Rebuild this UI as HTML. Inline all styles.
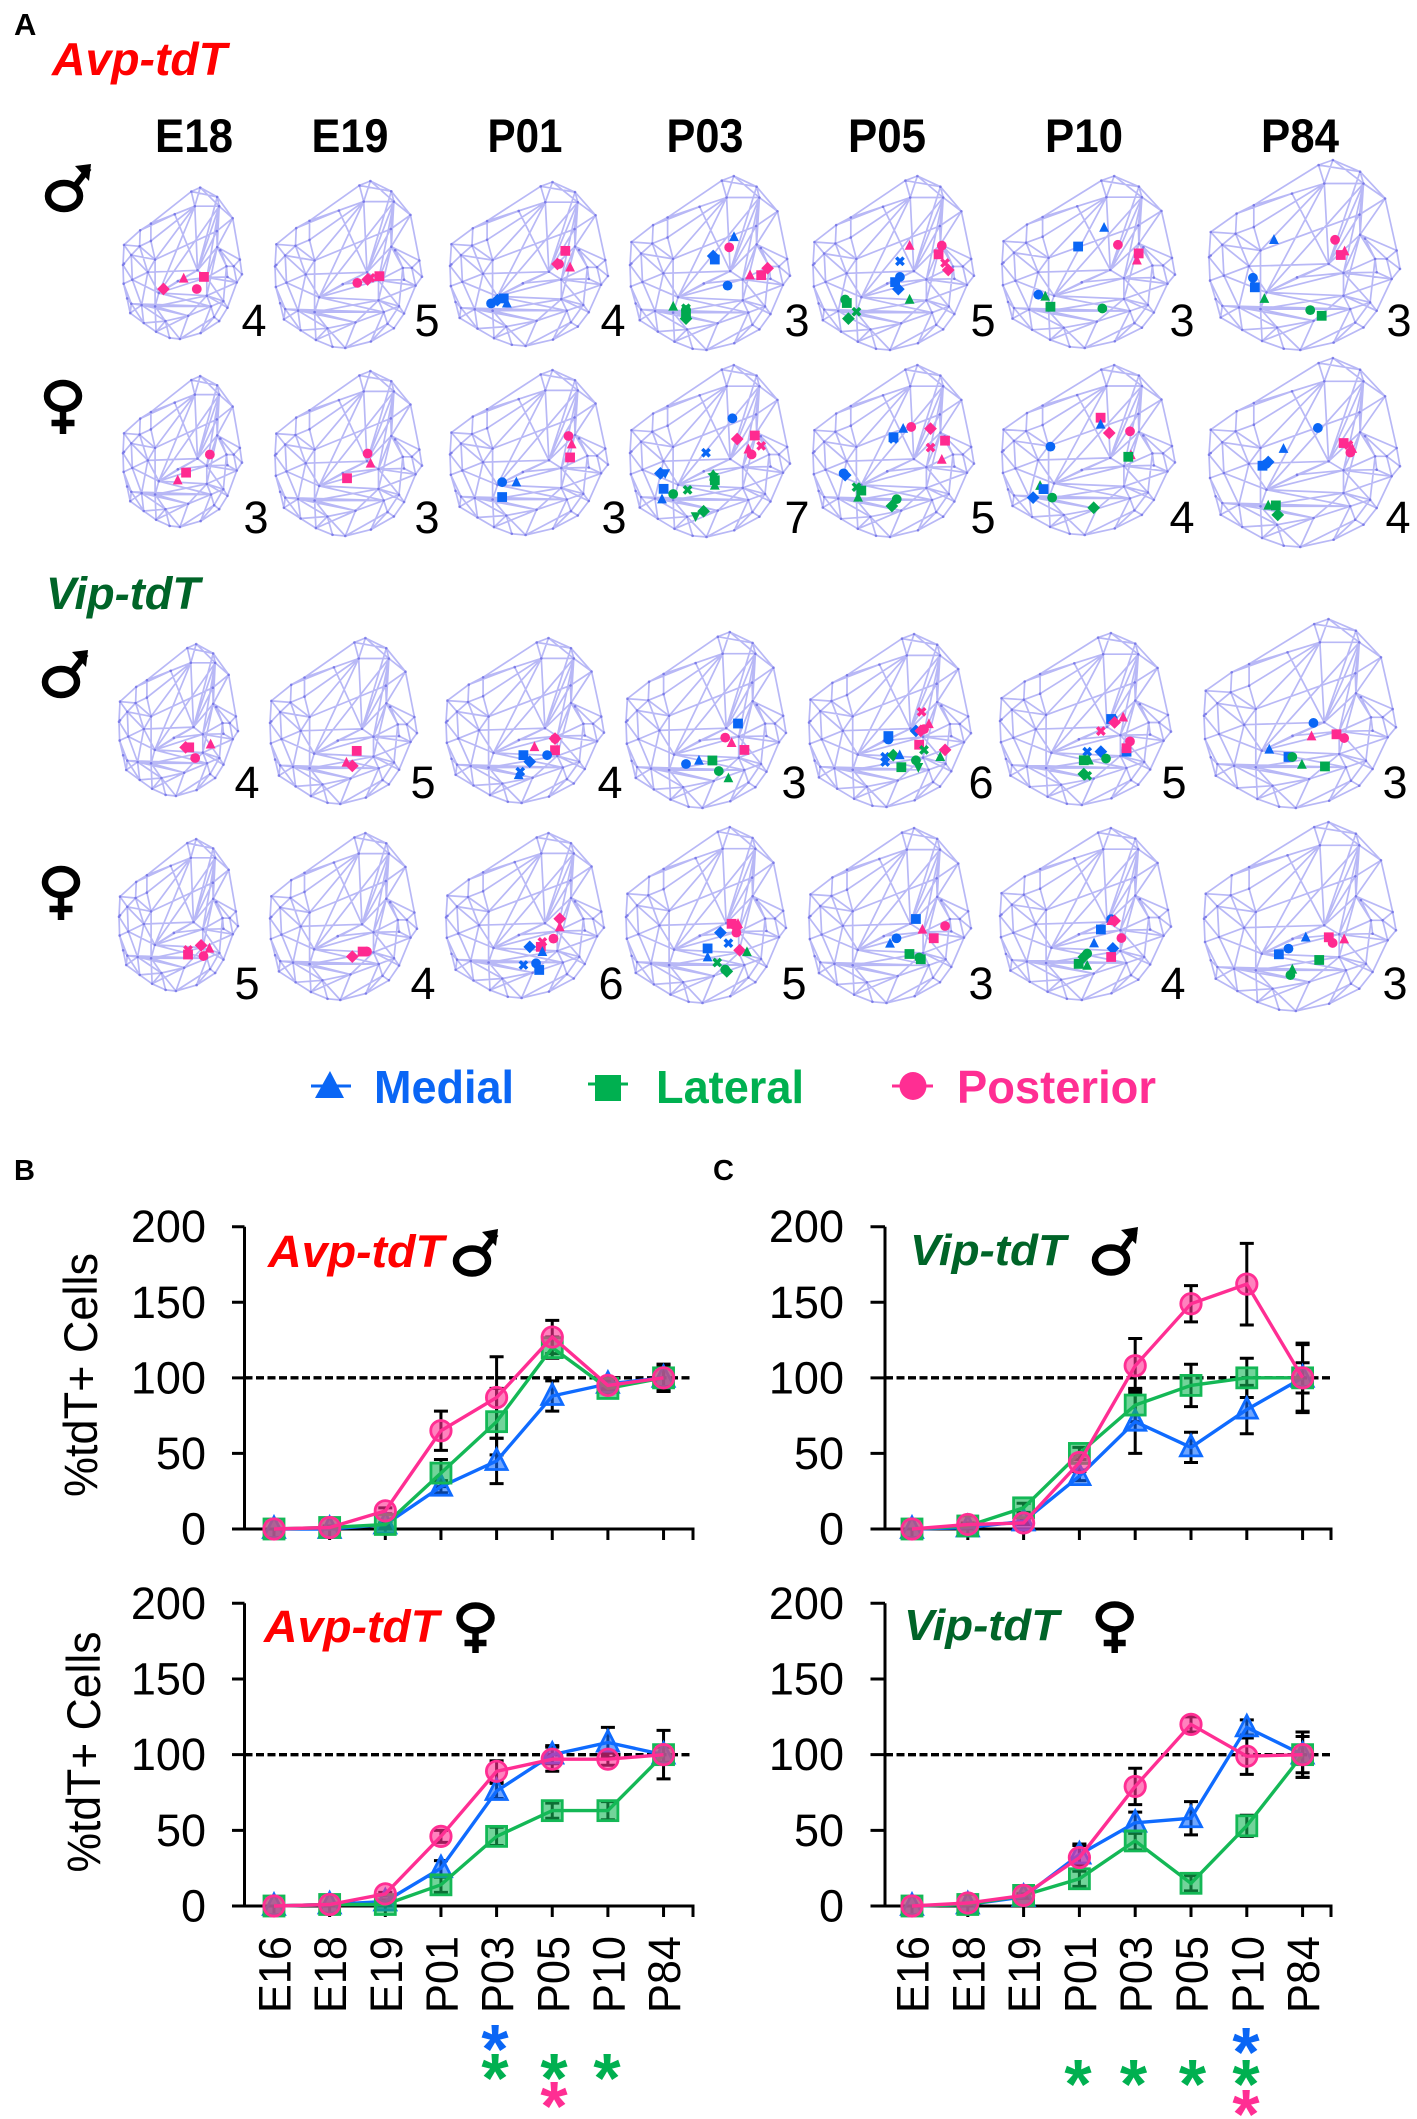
<!DOCTYPE html>
<html lang="en">
<head>
<meta charset="utf-8">
<title>Avp-tdT and Vip-tdT cell distribution</title>
<style>
html,body{margin:0;padding:0;background:#fff;}
svg{display:block;}
text{font-family:"Liberation Sans",sans-serif;}
.b{font-weight:700;}
.gene{font-weight:700;font-style:italic;}
.ct{font-size:45px;fill:#000;text-anchor:middle;}
.st{font-size:47px;font-weight:700;fill:#000;text-anchor:middle;}
.ytl{font-size:45px;fill:#000;text-anchor:end;}
.star{font-size:70px;font-weight:700;text-anchor:middle;}
.leg{font-size:46px;font-weight:700;}
</style>
</head>
<body>
<svg id="fig" xmlns="http://www.w3.org/2000/svg" width="1417" height="2119" viewBox="0 0 1417 2119">
<rect width="1417" height="2119" fill="#fff"/>

<text class="b" x="14" y="35" font-size="31">A</text>
<text class="b" x="14" y="1180" font-size="29">B</text>
<text class="b" x="713" y="1180" font-size="29">C</text>

<text class="gene" x="52" y="75" font-size="46" fill="#ff0000" textLength="175" lengthAdjust="spacingAndGlyphs">Avp-tdT</text>
<text class="gene" x="46" y="609" font-size="45" fill="#006428" textLength="154" lengthAdjust="spacingAndGlyphs">Vip-tdT</text>

<text class="st" x="194" y="152" textLength="78" lengthAdjust="spacingAndGlyphs">E18</text>
<text class="st" x="350" y="152" textLength="77" lengthAdjust="spacingAndGlyphs">E19</text>
<text class="st" x="525" y="152" textLength="75" lengthAdjust="spacingAndGlyphs">P01</text>
<text class="st" x="705" y="152" textLength="77" lengthAdjust="spacingAndGlyphs">P03</text>
<text class="st" x="887" y="152" textLength="78" lengthAdjust="spacingAndGlyphs">P05</text>
<text class="st" x="1084" y="152" textLength="78" lengthAdjust="spacingAndGlyphs">P10</text>
<text class="st" x="1300" y="152" textLength="78" lengthAdjust="spacingAndGlyphs">P84</text>

<g id="brains"></g>

<g>
<text class="ct" x="254" y="336">4</text>
<text class="ct" x="427" y="336">5</text>
<text class="ct" x="613" y="336">4</text>
<text class="ct" x="797" y="336">3</text>
<text class="ct" x="983" y="336">5</text>
<text class="ct" x="1182" y="336">3</text>
<text class="ct" x="1399" y="336">3</text>
<text class="ct" x="256" y="533">3</text>
<text class="ct" x="427" y="533">3</text>
<text class="ct" x="614" y="533">3</text>
<text class="ct" x="797" y="533">7</text>
<text class="ct" x="983" y="533">5</text>
<text class="ct" x="1182" y="533">4</text>
<text class="ct" x="1398" y="533">4</text>
<text class="ct" x="247" y="798">4</text>
<text class="ct" x="423" y="798">5</text>
<text class="ct" x="610" y="798">4</text>
<text class="ct" x="794" y="798">3</text>
<text class="ct" x="981" y="798">6</text>
<text class="ct" x="1174" y="798">5</text>
<text class="ct" x="1395" y="798">3</text>
<text class="ct" x="247" y="999">5</text>
<text class="ct" x="423" y="999">4</text>
<text class="ct" x="611" y="999">6</text>
<text class="ct" x="794" y="999">5</text>
<text class="ct" x="981" y="999">3</text>
<text class="ct" x="1173" y="999">4</text>
<text class="ct" x="1395" y="999">3</text>
</g>

<!-- sex symbols -->
<g transform="translate(64,196)" fill="none" stroke="#000"><ellipse rx="16" ry="13" stroke-width="6.5"/><path d="M11 -10L25 -28" stroke-width="6"/><path d="M11 -30L27 -32L25 -15Z" fill="#000" stroke="none"/></g>
<g transform="translate(63,396)" fill="none" stroke="#000"><ellipse rx="16" ry="13" stroke-width="6.5"/><path d="M0 14V38M-11.5 27H11.5" stroke-width="6.5"/></g>
<g transform="translate(61,682)" fill="none" stroke="#000"><ellipse rx="16" ry="13" stroke-width="6.5"/><path d="M11 -10L25 -28" stroke-width="6"/><path d="M11 -30L27 -32L25 -15Z" fill="#000" stroke="none"/></g>
<g transform="translate(61,882)" fill="none" stroke="#000"><ellipse rx="16" ry="13" stroke-width="6.5"/><path d="M0 14V38M-11.5 27H11.5" stroke-width="6.5"/></g>

<!-- legend -->
<g>
<g>
<path d="M311 1086H351" stroke="#0a66f5" stroke-width="3"/>
<path d="M330 1071L344 1098H315Z" fill="#0a66f5"/>
<text class="leg" x="374" y="1103" fill="#0a66f5" textLength="140" lengthAdjust="spacingAndGlyphs">Medial</text>
</g>
<g>
<path d="M588 1084H628" stroke="#00b050" stroke-width="3"/>
<rect x="595" y="1075" width="26" height="26" fill="#00b050"/>
<text class="leg" x="656" y="1103" fill="#00b050" textLength="148" lengthAdjust="spacingAndGlyphs">Lateral</text>
</g>
<g>
<path d="M892 1086H933" stroke="#ff2e93" stroke-width="3"/>
<ellipse cx="913" cy="1086" rx="13.5" ry="14" fill="#ff2e93"/>
<text class="leg" x="957" y="1103" fill="#ff2e93" textLength="199" lengthAdjust="spacingAndGlyphs">Posterior</text>
</g>
</g>

<g id="charts"></g>

<!-- y axis titles -->
<text font-size="47" fill="#000" text-anchor="middle" transform="translate(97,1375) rotate(-90)" textLength="244" lengthAdjust="spacingAndGlyphs">%tdT+ Cells</text>
<text font-size="47" fill="#000" text-anchor="middle" transform="translate(100,1752) rotate(-90)" textLength="241" lengthAdjust="spacingAndGlyphs">%tdT+ Cells</text>

<!-- chart annotations -->
<text class="gene" x="268" y="1267" font-size="45" fill="#ff0000" textLength="176" lengthAdjust="spacingAndGlyphs">Avp-tdT</text>
<g transform="translate(472,1261)" fill="none" stroke="#000"><ellipse rx="16" ry="12.5" stroke-width="6.5"/><path d="M11 -10L24 -27" stroke-width="6"/><path d="M10 -29L26 -32L24 -15Z" fill="#000" stroke="none"/></g>
<text class="gene" x="910" y="1265" font-size="44" fill="#006428" textLength="156" lengthAdjust="spacingAndGlyphs">Vip-tdT</text>
<g transform="translate(1111,1260)" fill="none" stroke="#000"><ellipse rx="16" ry="12.5" stroke-width="6.5"/><path d="M11 -10L24 -28" stroke-width="6"/><path d="M10 -30L27 -33L25 -16Z" fill="#000" stroke="none"/></g>
<text class="gene" x="264" y="1642" font-size="45" fill="#ff0000" textLength="175" lengthAdjust="spacingAndGlyphs">Avp-tdT</text>
<g transform="translate(475.5,1618)" fill="none" stroke="#000"><ellipse rx="16" ry="12.5" stroke-width="6.5"/><path d="M0 13V35M-11 25H11" stroke-width="6.5"/></g>
<text class="gene" x="904" y="1640" font-size="44" fill="#006428" textLength="155" lengthAdjust="spacingAndGlyphs">Vip-tdT</text>
<g transform="translate(1114.7,1617)" fill="none" stroke="#000"><ellipse rx="16" ry="12.5" stroke-width="6.5"/><path d="M0 13V36M-11 26H11" stroke-width="6.5"/></g>

<!-- significance stars -->
<g>
<text class="star" fill="#0a66f5" x="495" y="2073">*</text>
<text class="star" fill="#00b050" x="495" y="2102">*</text>
<text class="star" fill="#00b050" x="554" y="2102">*</text>
<text class="star" fill="#ff2e93" x="554" y="2130">*</text>
<text class="star" fill="#00b050" x="607" y="2102">*</text>
<text class="star" fill="#00b050" x="1078" y="2108">*</text>
<text class="star" fill="#00b050" x="1133.5" y="2108">*</text>
<text class="star" fill="#00b050" x="1192.5" y="2108">*</text>
<text class="star" fill="#0a66f5" x="1246" y="2076">*</text>
<text class="star" fill="#00b050" x="1246" y="2108">*</text>
<text class="star" fill="#ff2e93" x="1246" y="2138">*</text>
</g>
</svg>

<script>
/* ---------- chart data ---------- */
const categories = ['E16','E18','E19','P01','P03','P05','P10','P84'];
const yTickValues = [0,50,100,150,200];
const referenceLevel = 100;

const avpMaleMedial      = [0,0,3,28,45,88,96,100];
const avpMaleMedialErr   = [0,0,1,4,15,10,3,9];
const avpMaleLateral     = [0,1,3,37,71,120,93,100];
const avpMaleLateralErr  = [0,0,1,9,22,7,3,9];
const avpMalePosterior   = [0,1,12,65,87,127,95,100];
const avpMalePosteriorErr= [0,1,2,13,27,11,3,8];

const vipMaleMedial      = [0,1,5,35,71,54,79,100];
const vipMaleMedialErr   = [0,0,1,3,21,10,16,23];
const vipMaleLateral     = [0,2,14,50,82,95,100,100];
const vipMaleLateralErr  = [0,1,3,4,11,14,13,10];
const vipMalePosterior   = [0,3,4,44,108,149,162,100];
const vipMalePosteriorErr= [0,1,1,5,18,12,27,22];

const avpFemaleMedial      = [0,1,3,25,76,100,108,100];
const avpFemaleMedialErr   = [0,0,1,5,5,6,10,5];
const avpFemaleLateral     = [0,1,1,14,46,63,63,100];
const avpFemaleLateralErr  = [0,0,1,5,6,5,6,6];
const avpFemalePosterior   = [0,1,8,46,89,97,97,100];
const avpFemalePosteriorErr= [0,0,1,4,7,8,4,16];

const vipFemaleMedial      = [0,1,6,34,55,58,118,100];
const vipFemaleMedialErr   = [0,0,1,7,7,11,5,15];
const vipFemaleLateral     = [0,1,7,18,43,15,53,100];
const vipFemaleLateralErr  = [0,0,1,5,6,5,7,12];
const vipFemalePosterior   = [0,2,7,32,79,120,99,100];
const vipFemalePosteriorErr= [0,0,1,8,12,5,12,15];

/* ---------- brain point data: atlas coordinates, percent of the atlas extent.
   First letter = region (m medial, l lateral, p posterior),
   second = symbol (t triangle, s square, c circle, d diamond, x cross, a star, v inverted triangle) */
const avpMaleE18 = [['pd',34,67],['pt',51,60],['pc',62,67],['ps',68,59]];
const avpMaleE19 = [['pc',56,61],['pd',63,59],['px',65,58],['ps',71,57]];
const avpMaleP01 = [['mc',26,74],['md',30,72],['ms',34,71],['mt',36,74],['ps',73,42],['pd',68,50],['pc',69,50],['pt',76,52]];
const avpMaleP03 = [['mt',65,35],['pc',62,41],['md',52,46],['ms',53,48],['mc',61,63],['pt',75,57],['ps',82,57],['pd',86,53],['lt',27,75],['lc',35,77],['ls',35,79],['ld',35,82],['lx',35,76]];
const avpMaleP05 = [['pt',60,40],['pc',80,40],['ps',78,45],['px',82,50],['pd',84,54],['mx',54,49],['mc',54,58],['ms',51,61],['md',53,65],['lt',60,71],['lc',20,71],['ls',21,73],['lx',27,78],['ld',22,82]];
const avpMaleP10 = [['mt',59,30],['ms',44,41],['pc',67,40],['ps',79,45],['pt',78,49],['mc',21,69],['lt',25,70],['ls',28,76],['lc',58,77]];
const avpMaleP84 = [['mt',34,42],['pc',66,42],['pt',71,48],['ps',69,50],['mc',23,62],['ms',24,67],['lt',29,73],['lc',53,79],['ls',59,82]];

const avpFemaleE18 = [['pc',73,52],['ps',53,64],['pt',46,69]];
const avpFemaleE19 = [['pc',63,50],['pt',65,56],['ps',49,65]];
const avpFemaleP01 = [['pc',75,40],['pt',77,45],['ps',76,53],['mc',33,68],['mt',42,68],['ms',33,77]];
const avpFemaleP03 = [['mx',47.5,51],['md',19,63],['mv',22,63],['ms',21,72],['mt',20,78],['lc',27,75],['lx',36,72.6],['la',52,64],['ls',53,67],['lt',53,70],['ld',46,85],['lv',41,88],['mc',64,31],['pd',67,43],['ps',78,41],['px',82,47],['pt',74,49],['pc',76,52]];
const avpFemaleP05 = [['ms',50,42],['mx',50,43],['mt',56,37],['pc',61,36],['pd',73,37],['ps',82,44],['px',73,48],['pt',80,55],['mc',19,63],['md',20,64],['lx',27,71],['ls',30,73],['lt',28,77],['lc',52,78],['ld',49,82]];
const avpFemaleP10 = [['ps',57,31],['mt',57,35],['pd',62,40],['pc',74,39],['mc',28,48],['pt',74.5,53],['ls',73,54],['lt',22,71],['ms',24,73],['md',18,78],['lc',29,78],['ld',53,84]];
const avpFemaleP84 = [['mc',57,37],['mt',39,48],['ps',70.5,45],['pt',75,48],['px',73,46],['pc',74,50],['ms',28,57],['mc',30,56],['md',31,55],['lt',31,78],['ls',35,78],['ld',36,83]];

const vipMaleE18 = [['pd',56,68],['ps',59,68],['pt',77,66],['pc',64,75]];
const vipMaleE19 = [['ps',59,68],['pt',52,75],['pd',56,77]];
const vipMaleP01 = [['pc',69,61],['pd',69,61],['pt',56,66],['ps',69,68],['mc',64,71],['ms',49,71],['md',53,75],['mx',47,81],['mt',46,83]];
const vipMaleP03 = [['mc',37.5,75],['mt',45.6,73],['ls',54,73],['lc',58,79],['ms',70,52],['pc',62,60],['pt',66,63],['ps',74,67],['lt',64,83]];
const vipMaleP05 = [['px',69.5,45],['pt',74,52],['md',66,56],['pd',69,56],['pc',71,55],['ms',49,59],['mc',49,61],['ps',68,64],['lx',71,67],['pd',84,67],['lt',81,71],['mx',47,71],['mx',47,74],['ld',52,70],['mt',56,70],['ls',57,77],['lc',66,73],['lv',67.5,77]];
const vipMaleP10 = [['ms',65,50],['mc',66,50],['pd',67,52],['pt',72,49],['px',59,57],['pc',76,63],['ms',74,69],['ps',74,67],['mx',51,69],['md',59,69],['lc',62,73],['ls',49,74],['lt',52,74],['ld',49,82],['lx',51,83]];
const vipMaleP84 = [['mc',57,55],['pt',56,62],['ps',69,61],['pc',73,63],['mt',34,69],['ms',44,73],['lc',46,73],['lt',51,77],['ls',63,78]];

const vipFemaleE18 = [['px',58,73],['ps',58,76],['pd',69,70],['pt',76,72],['pc',71,77]];
const vipFemaleE19 = [['pd',56,74],['ps',63,71],['pc',66,71]];
const vipFemaleP01 = [['pd',72,52],['pt',72,57],['px',61,66],['ps',60,69],['pc',68,64],['md',53,69],['mt',61,72],['mx',49,80],['mc',57,79],['ms',59,83]];
const vipFemaleP03 = [['ps',66,55],['pt',70,55],['pd',69,57],['pc',69,60],['md',59,60],['mx',64,66],['pd',71,70],['lt',75.6,71],['ms',51,69],['mt',51,74],['lx',57,77],['lc',62,81],['ld',63,82]];
const vipFemaleP05 = [['ms',66,52],['pt',70,58],['pc',84,56],['ps',77,63],['mc',54,63],['mt',50,66],['ls',62,72],['lc',68,74],['ls',69,75]];
const vipFemaleP10 = [['mc',65,53],['pt',65,54],['pd',67,54],['ms',59,59],['pc',71,64],['mt',55,67],['md',66,70],['ps',65,75],['lc',51,73],['ld',49,75],['ls',46,79],['lt',51,80]];
const vipFemaleP84 = [['mt',53,61],['ps',65,61],['pc',67,64],['pt',73,62],['mc',44,67],['ms',39,70],['ls',60,73],['lt',46,78],['lc',45,81]];

/* ---------- layout (not data) ---------- */
const SVGNS = 'http://www.w3.org/2000/svg';
const colors = {m:'#0a66f5', l:'#00a94f', p:'#ff2a90'};
const chartColors = {medial:'#0f6bff', lateral:'#14b856', posterior:'#ff2e93'};

const brainCells = [
  ['avp-male-e18',avpMaleE18,123,242,187.5,339],['avp-male-e19',avpMaleE19,275,422,181,348],['avp-male-p01',avpMaleP01,450,608,182,346],['avp-male-p03',avpMaleP03,630,790,176,350],['avp-male-p05',avpMaleP05,813,974,176,350],['avp-male-p10',avpMaleP10,1002,1175,176,348],['avp-male-p84',avpMaleP84,1209,1400,160,350],
  ['avp-female-e18',avpFemaleE18,123,242,376,527],['avp-female-e19',avpFemaleE19,275,422,371,536],['avp-female-p01',avpFemaleP01,450,608,370,535],['avp-female-p03',avpFemaleP03,630,790,365,537],['avp-female-p05',avpFemaleP05,813,974,365,537],['avp-female-p10',avpFemaleP10,1002,1175,365,535],['avp-female-p84',avpFemaleP84,1209,1400,358,547],
  ['vip-male-e18',vipMaleE18,119,238,644,796],['vip-male-e19',vipMaleE19,270,417,638,804],['vip-male-p01',vipMaleP01,446,604,638,803],['vip-male-p03',vipMaleP03,626,786,632,808],['vip-male-p05',vipMaleP05,809,971,634,807],['vip-male-p10',vipMaleP10,1000,1171,633,805],['vip-male-p84',vipMaleP84,1204,1396,619,808],
  ['vip-female-e18',vipFemaleE18,119,238,839,991],['vip-female-e19',vipFemaleE19,270,417,833,1000],['vip-female-p01',vipFemaleP01,446,604,833,998],['vip-female-p03',vipFemaleP03,626,786,827,1003],['vip-female-p05',vipFemaleP05,809,971,828,1003],['vip-female-p10',vipFemaleP10,1000,1171,828,1000],['vip-female-p84',vipFemaleP84,1204,1396,822,1011]
];

/* wireframe template, traced from one atlas (extent 25..600 by 15..585) */
const meshRaw = [[398,15],[480,50],[555,130],[590,285],[600,340],[575,370],[530,465],[490,515],[400,560],[300,582],[250,578],[185,555],[125,522],[60,485],[45,430],[28,375],[25,305],[30,230],[108,175],[160,150],[355,30],
[372,85],[490,85],[478,178],[480,238],[105,235],[160,215],[180,285],[65,268],[30,300],[145,332],[70,360],[198,410],[180,460],[115,455],[65,450],[385,325],[430,352],[525,310],[495,250],[560,310],[530,350],[430,420],[465,500],[450,460],[230,515],[340,495],[510,440],[290,365],[275,115]];
const meshVerts = meshRaw.map(function(v){return [(v[0]-25)/575*100,(v[1]-15)/567*100];});
const meshEdges = '20-0 0-1 1-2 2-3 3-4 4-5 5-6 6-7 7-8 8-9 9-10 10-11 11-12 12-13 13-14 14-15 15-16 16-17 17-18 18-19 19-20 19-20 20-1 20-21 0-21 21-22 0-22 1-22 22-2 22-23 22-24 21-36 22-36 22-37 1-36 21-19 21-27 21-32 21-49 18-25 17-25 25-26 26-19 26-27 27-25 25-28 17-28 28-16 28-27 28-30 16-31 28-31 31-30 30-27 27-33 31-15 15-35 14-35 35-13 35-34 34-31 34-30 34-33 33-32 32-30 32-36 32-36 32-37 34-12 35-12 13-34 33-11 33-45 45-11 45-10 45-9 30-36 27-23 36-23 36-24 36-37 37-24 37-42 42-24 42-44 44-43 43-7 43-8 42-32 42-32 33-42 33-44 34-44 34-46 46-44 46-42 45-46 9-46 8-44 9-43 42-6 42-5 37-5 37-38 38-24 38-40 24-39 39-40 40-4 40-3 24-3 24-2 23-2 23-24 40-5 38-47 47-6 47-43 44-47 42-47 37-47 41-38 41-5 41-37 39-38 32-48 48-37 48-36 32-22 45-34 35-33 12-45 32-44 33-46 35-44 31-32 11-46 25-30 26-21 18-49 49-36';

function brainPx(cell,u,v){
  return [cell[2]+u/100*(cell[3]-cell[2]), cell[4]+v/100*(cell[5]-cell[4])];
}
function brainMarkerPath(s,x,y){
  const r=4.9;
  if(s==='t')return `M${x} ${y-r*1.15}L${x+r} ${y+r*.85}L${x-r} ${y+r*.85}Z`;
  if(s==='v')return `M${x} ${y+r*1.15}L${x+r} ${y-r*.85}L${x-r} ${y-r*.85}Z`;
  if(s==='s')return `M${x-r} ${y-r}h${2*r}v${2*r}h${-2*r}Z`;
  if(s==='c')return `M${x-r} ${y}a${r} ${r} 0 1 0 ${2*r} 0a${r} ${r} 0 1 0 ${-2*r} 0Z`;
  if(s==='d'){const q=r*1.3;return `M${x} ${y-q}L${x+q} ${y}L${x} ${y+q}L${x-q} ${y}Z`;}
  if(s==='x'){const a=r*1.0,b=r*.5;return `M${x-a} ${y-a+b}L${x-a+b} ${y-a}L${x} ${y-b}L${x+a-b} ${y-a}L${x+a} ${y-a+b}L${x+b} ${y}L${x+a} ${y+a-b}L${x+a-b} ${y+a}L${x} ${y+b}L${x-a+b} ${y+a}L${x-a} ${y+a-b}L${x-b} ${y}Z`;}
  const a=r*1.2,b=r*.5;
  return `M${x} ${y-a}L${x+b} ${y-b}L${x+a} ${y-b*.6}L${x+b*1.2} ${y+b*.5}L${x+a*.7} ${y+a}L${x} ${y+b}L${x-a*.7} ${y+a}L${x-b*1.2} ${y+b*.5}L${x-a} ${y-b*.6}L${x-b} ${y-b}Z`;
}
function svgEl(tag,attrs){
  const el=document.createElementNS(SVGNS,tag);
  for(const k in attrs)el.setAttribute(k,attrs[k]);
  return el;
}

const brainRoot=document.getElementById('brains');
brainCells.forEach(function(cell){
  const g=svgEl('g',{});
  
  
  let d='',dots='';
  meshEdges.split(' ').forEach(function(e){
    const ab=e.split('-');
    const a=brainPx(cell,meshVerts[+ab[0]][0],meshVerts[+ab[0]][1]);
    const b=brainPx(cell,meshVerts[+ab[1]][0],meshVerts[+ab[1]][1]);
    d+='M'+a[0].toFixed(1)+' '+a[1].toFixed(1)+'L'+b[0].toFixed(1)+' '+b[1].toFixed(1);
  });
  meshVerts.forEach(function(v){
    const p=brainPx(cell,v[0],v[1]);
    dots+='M'+p[0].toFixed(1)+' '+p[1].toFixed(1)+'h.01';
  });
  const mesh=svgEl('path',{d:d,fill:'none',stroke:'#7272ee','stroke-opacity':'.5','stroke-width':'1.7'});
  
  
  g.appendChild(mesh);
  const nodes=svgEl('path',{d:dots,fill:'none',stroke:'#5050e0','stroke-opacity':'.6','stroke-width':'2.6','stroke-linecap':'round'});
  
  
  g.appendChild(nodes);
  cell[1].forEach(function(pt){
    const p=brainPx(cell,pt[1],pt[2]);
    const m=svgEl('path',{d:brainMarkerPath(pt[0][1],p[0],p[1]),fill:colors[pt[0][0]]});
    
    
    g.appendChild(m);
  });
  brainRoot.appendChild(g);
});

/* ---------- line charts ---------- */
const chartPanels = [
  {id:'avp-male',x0:274,step:55.65,axisX:244.5,tickLeft:232,right:693,y0:1529,y200:1226.7,labelRight:206,xLabels:false,
   medial:avpMaleMedial,medialErr:avpMaleMedialErr,lateral:avpMaleLateral,lateralErr:avpMaleLateralErr,posterior:avpMalePosterior,posteriorErr:avpMalePosteriorErr},
  {id:'vip-male',x0:912,step:55.8,axisX:885,tickLeft:870.5,right:1331,y0:1529,y200:1226.7,labelRight:844,xLabels:false,
   medial:vipMaleMedial,medialErr:vipMaleMedialErr,lateral:vipMaleLateral,lateralErr:vipMaleLateralErr,posterior:vipMalePosterior,posteriorErr:vipMalePosteriorErr},
  {id:'avp-female',x0:274,step:55.65,axisX:244.5,tickLeft:232,right:693,y0:1906,y200:1603.3,labelRight:206,xLabels:true,
   medial:avpFemaleMedial,medialErr:avpFemaleMedialErr,lateral:avpFemaleLateral,lateralErr:avpFemaleLateralErr,posterior:avpFemalePosterior,posteriorErr:avpFemalePosteriorErr},
  {id:'vip-female',x0:912,step:55.8,axisX:885,tickLeft:870.5,right:1331,y0:1906,y200:1603.3,labelRight:844,xLabels:true,
   medial:vipFemaleMedial,medialErr:vipFemaleMedialErr,lateral:vipFemaleLateral,lateralErr:vipFemaleLateralErr,posterior:vipFemalePosterior,posteriorErr:vipFemalePosteriorErr}
];
const seriesOrder=['medial','lateral','posterior'];
function xScale(p,i){return p.x0+i*p.step;}
function yScale(p,v){return p.y0-v*(p.y0-p.y200)/200;}

const chartRoot=document.getElementById('charts');
chartPanels.forEach(function(p){
  const g=svgEl('g',{});
  
  
  chartRoot.appendChild(g);

  let ax='M'+p.axisX+' '+yScale(p,200)+'V'+p.y0+'M'+p.tickLeft+' '+p.y0+'H'+p.right+'V'+(p.y0+11);
  yTickValues.forEach(function(t){ax+='M'+p.tickLeft+' '+yScale(p,t)+'H'+p.axisX;});
  categories.forEach(function(c,i){ax+='M'+xScale(p,i)+' '+p.y0+'V'+(p.y0+11);});
  const axes=svgEl('path',{d:ax,fill:'none',stroke:'#000','stroke-width':'3'});
  
  
  g.appendChild(axes);

  yTickValues.forEach(function(t){
    const tx=svgEl('text',{class:'ytl',x:p.labelRight,y:yScale(p,t)+15.5});
    
    
    tx.textContent=t;
    g.appendChild(tx);
  });

  if(p.xLabels){
    categories.forEach(function(c,i){
      const bx=xScale(p,i)+16.5;
      const tx=svgEl('text',{'font-size':'45',fill:'#000',x:bx,y:2013,textLength:'77',lengthAdjust:'spacingAndGlyphs',transform:'rotate(-90 '+bx+' 2013)'});
      
      
      tx.textContent=c;
      g.appendChild(tx);
    });
  }

  const ref=svgEl('line',{x1:p.axisX,x2:p.right,y1:yScale(p,referenceLevel),y2:yScale(p,referenceLevel),stroke:'#000','stroke-width':'3.4','stroke-dasharray':'8 3.5'});
  
  
  g.appendChild(ref);

  seriesOrder.forEach(function(s){
    const vals=p[s],errs=p[s+'Err'];
    vals.forEach(function(v,i){
      if(!errs[i])return;
      const x=xScale(p,i),hi=yScale(p,v+errs[i]),lo=yScale(p,v-errs[i]);
      const eb=svgEl('path',{d:'M'+x+' '+lo+'V'+hi+'M'+(x-7)+' '+hi+'H'+(x+7)+'M'+(x-7)+' '+lo+'H'+(x+7),fill:'none',stroke:'#000','stroke-width':'3'});
      
      
      g.appendChild(eb);
    });
  });

  seriesOrder.forEach(function(s){
    const col=chartColors[s],vals=p[s];
    vals.forEach(function(v,i){
      const x=xScale(p,i),y=yScale(p,v);
      let m;
      if(s==='medial')m=svgEl('path',{d:'M'+x+' '+(y-12)+'L'+(x+10.5)+' '+(y+8.5)+'L'+(x-10.5)+' '+(y+8.5)+'Z'});
      else if(s==='lateral')m=svgEl('rect',{x:x-10,y:y-10,width:20,height:20});
      else m=svgEl('circle',{cx:x,cy:y,r:10.2});
      m.setAttribute('fill',col);
      m.setAttribute('fill-opacity','.6');
      m.setAttribute('stroke',col);
      m.setAttribute('stroke-width','2.8');
      
      
      g.appendChild(m);
    });
    const pts=vals.map(function(v,i){return xScale(p,i).toFixed(1)+','+yScale(p,v).toFixed(1);}).join(' ');
    const line=svgEl('polyline',{points:pts,fill:'none',stroke:col,'stroke-width':'3.4'});
    
    
    g.appendChild(line);
  });
});
</script>
</body>
</html>
